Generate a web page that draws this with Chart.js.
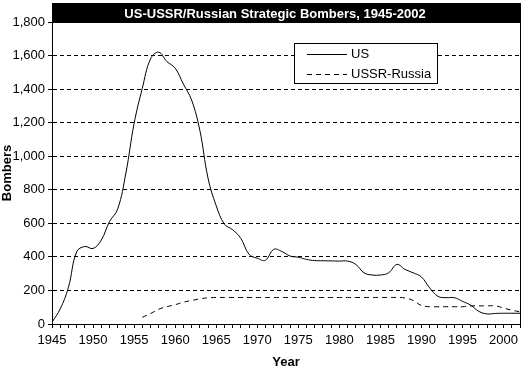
<!DOCTYPE html>
<html>
<head>
<meta charset="utf-8">
<script src="https://cdn.jsdelivr.net/npm/chart.js@4"></script>
<style>
  html, body { margin: 0; padding: 0; background: #fff; }
  #wrap { width: 530px; height: 374px; }
</style>
</head>
<body>
<div id="wrap"><canvas id="bombers" width="530" height="374"></canvas></div>
<script>
const chartTitle = 'US-USSR/Russian Strategic Bombers, 1945-2002';
const usYears = [1945, 1946, 1947, 1948, 1949, 1950, 1951, 1952, 1953, 1954,
                 1955, 1956, 1957, 1958, 1959, 1960, 1961, 1962, 1963, 1964,
                 1965, 1966, 1967, 1968, 1969, 1970, 1971, 1972, 1973, 1974,
                 1975, 1976, 1977, 1978, 1979, 1980, 1981, 1982, 1983, 1984,
                 1985, 1986, 1987, 1988, 1989, 1990, 1991, 1992, 1993, 1994,
                 1995, 1996, 1997, 1998, 1999, 2000, 2001, 2002];
const usBombers = [10, 90, 218, 430, 462, 450, 500, 610, 685, 900,
                   1195, 1405, 1580, 1620, 1564, 1525, 1430, 1335, 1156, 870,
                   705, 595, 562, 510, 415, 392, 380, 445, 432, 405,
                   398, 385, 378, 377, 376, 375, 375, 355, 305, 292,
                   292, 305, 355, 325, 305, 280, 215, 165, 157, 157,
                   135, 112, 75, 60, 63, 64, 64, 64];
const ussrYears = [1956, 1957, 1958, 1959, 1960, 1961, 1962, 1963, 1964, 1965,
                   1966, 1967, 1968, 1969, 1970, 1971, 1972, 1973, 1974, 1975,
                   1976, 1977, 1978, 1979, 1980, 1981, 1982, 1983, 1984, 1985,
                   1986, 1987, 1988, 1989, 1990, 1991, 1992, 1993, 1994, 1995,
                   1996, 1997, 1998, 1999, 2000, 2001, 2002];
const ussrBombers = [40, 62, 88, 103, 115, 130, 140, 150, 156, 158,
                     158, 158, 158, 158, 158, 158, 158, 158, 158, 158,
                     158, 158, 158, 158, 158, 158, 158, 158, 158, 158,
                     158, 158, 155, 140, 110, 103, 103, 103, 103, 103,
                     108, 108, 108, 108, 95, 82, 73];
const xLabelYears = [1945, 1950, 1955, 1960, 1965, 1970, 1975, 1980, 1985, 1990, 1995, 2000];

const FONT = 'Arial, "Liberation Sans", sans-serif';

// title bar, right border and legend box drawn by hand
const decor = {
    id: 'decor',
    afterDraw(chart) {
        const { ctx, chartArea: a } = chart;
        ctx.save();
        // right border
        ctx.strokeStyle = '#000';
        ctx.lineWidth = 1;
        ctx.beginPath();
        ctx.moveTo(Math.round(a.right) + 0.5, a.top);
        ctx.lineTo(Math.round(a.right) + 0.5, a.bottom);
        ctx.stroke();
        // title bar
        ctx.fillStyle = '#000';
        ctx.fillRect(a.left, 3, a.right - a.left + 1, a.top - 3 + 1);
        ctx.fillStyle = '#fff';
        ctx.font = 'bold 13px ' + FONT;
        ctx.textAlign = 'center';
        ctx.textBaseline = 'alphabetic';
        ctx.fillText(chartTitle, 275, 18);
        // legend
        const bx = 294.5, by = 43.5, bw = 143, bh = 40;
        ctx.fillStyle = '#fff';
        ctx.fillRect(bx, by, bw, bh);
        ctx.strokeRect(bx, by, bw, bh);
        ctx.font = '13px ' + FONT;
        ctx.textAlign = 'left';
        ctx.textBaseline = 'middle';
        chart.data.datasets.forEach((ds, i) => {
            const y = Math.round(by + 10 + i * 20) + 0.5;
            ctx.strokeStyle = ds.borderColor;
            ctx.setLineDash(ds.borderDash || []);
            ctx.beginPath();
            ctx.moveTo(307, y);
            ctx.lineTo(347, y);
            ctx.stroke();
            ctx.setLineDash([]);
            ctx.fillStyle = '#000';
            ctx.fillText(ds.label, 351, y);
        });
        ctx.restore();
    }
};

const ctx = document.getElementById('bombers').getContext('2d');
new Chart(ctx, {
    type: 'line',
    data: {
        datasets: [
            {
                label: 'US',
                data: usYears.map((y, i) => ({ x: y, y: usBombers[i] })),
                borderColor: '#000',
                borderWidth: 1,
                pointRadius: 0,
                tension: 0.4,
                fill: false
            },
            {
                label: 'USSR-Russia',
                data: ussrYears.map((y, i) => ({ x: y, y: ussrBombers[i] })),
                borderColor: '#000',
                borderWidth: 1,
                borderDash: [5, 4],
                pointRadius: 0,
                tension: 0.4,
                fill: false
            }
        ]
    },
    options: {
        responsive: false,
        animation: false,
        layout: { padding: { top: 22, right: 10, bottom: 0, left: 0 } },
        plugins: {
            legend: { display: false },
            title: { display: false },
            tooltip: { enabled: false }
        },
        scales: {
            x: {
                type: 'linear',
                min: 1945,
                max: 2002,
                afterFit: s => { s.height = 50; },
                ticks: {
                    stepSize: 1,
                    autoSkip: false,
                    maxRotation: 0,
                    padding: 5,
                    color: '#000',
                    font: { family: FONT, size: 13 },
                    callback: v => xLabelYears.includes(v) ? String(v) : ''
                },
                grid: {
                    drawOnChartArea: false,
                    drawTicks: true,
                    tickLength: 4,
                    tickColor: '#000'
                },
                border: { display: true, color: '#000', width: 1 },
                title: {
                    display: true,
                    text: 'Year',
                    color: '#000',
                    font: { family: FONT, size: 13, weight: 'bold' },
                    padding: { top: 0, bottom: 4 }
                }
            },
            y: {
                min: 0,
                max: 1800,
                afterFit: s => { s.width = 52; },
                ticks: {
                    stepSize: 200,
                    padding: 3,
                    color: '#000',
                    font: { family: FONT, size: 13 }
                },
                grid: {
                    color: '#000',
                    lineWidth: 1,
                    drawTicks: true,
                    tickLength: 4,
                    tickColor: '#000'
                },
                border: { display: true, color: '#000', width: 1, dash: [4, 3] },
                title: {
                    display: true,
                    text: 'Bombers',
                    color: '#000',
                    font: { family: FONT, size: 13, weight: 'bold' },
                    padding: { top: 0, bottom: 0 }
                }
            }
        }
    },
    plugins: [decor]
});
</script>
</body>
</html>
